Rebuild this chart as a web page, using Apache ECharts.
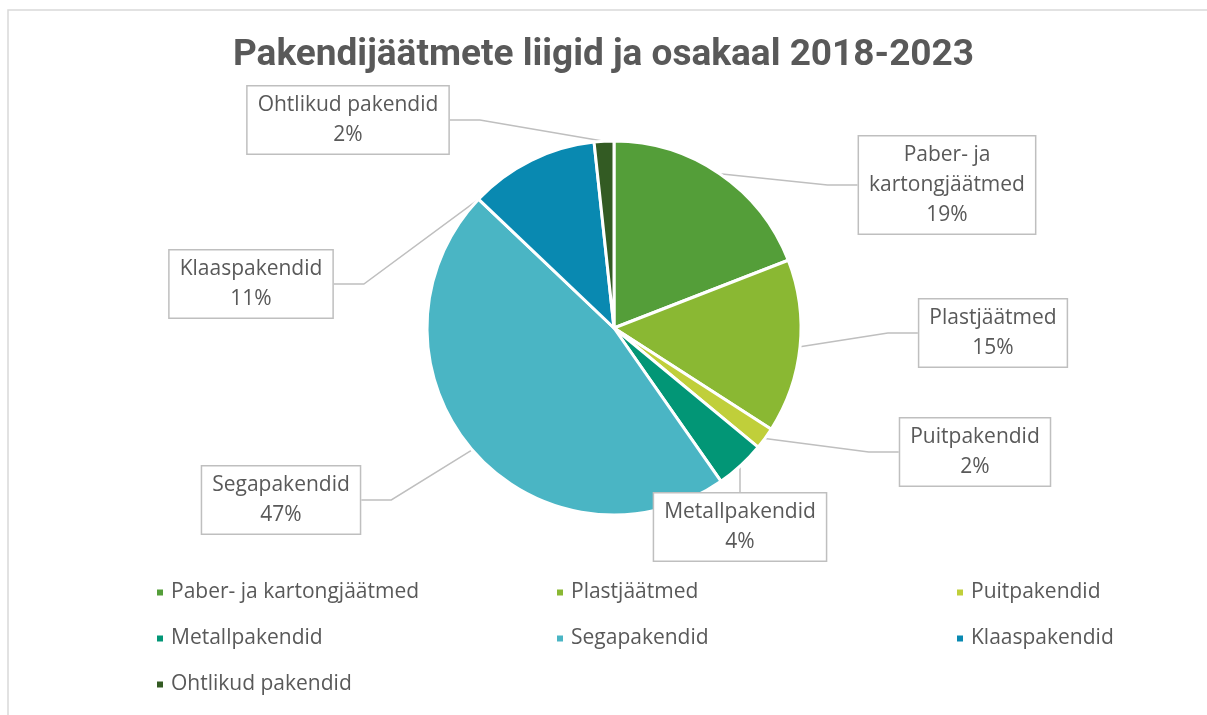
<!DOCTYPE html>
<html>
<head>
<meta charset="utf-8">
<script src="https://cdn.jsdelivr.net/npm/echarts@6/dist/echarts.min.js"></script>
<style>
  html, body { margin: 0; padding: 0; background: #fff; }
  #chart { width: 1207px; height: 715px; }
</style>
</head>
<body>
<div id="chart"></div>
<script>
const categories = [
  "Paber- ja kartongjäätmed",
  "Plastjäätmed",
  "Puitpakendid",
  "Metallpakendid",
  "Segapakendid",
  "Klaaspakendid",
  "Ohtlikud pakendid"
];
const shares = [19.1, 15.0, 1.9, 4.3, 46.8, 11.2, 1.7];
const colors = ["#549e39", "#8ab833", "#c0cf3a", "#029676", "#4ab5c4", "#0989b1", "#335b23"];

// label box centres (px), same order as categories
const labelPos = [
  [947, 185], [993, 333], [975, 452], [740, 527], [281, 500], [251, 284], [348, 120]
];

const textColor = "#595959";
const font = "'Open Sans', 'Noto Sans', sans-serif";

const chart = echarts.init(document.getElementById("chart"));

chart.setOption({
  animation: false,
  textStyle: { fontFamily: font },
  graphic: [
    {
      type: "rect",
      shape: { x: 8, y: 10, width: 1300, height: 800 },
      style: { fill: "none", stroke: "#d9d9d9", lineWidth: 1.5 },
      silent: true
    }
  ],
  title: {
    text: "Pakendijäätmete liigid ja osakaal 2018-2023",
    left: "center",
    top: 32,
    textStyle: {
      fontFamily: "'Roboto', sans-serif",
      fontWeight: "bold",
      fontSize: 37,
      color: textColor
    }
  },
  legend: [
    { data: [categories[0], categories[3], categories[6]], left: 150 },
    { data: [categories[1], categories[4]], left: 550 },
    { data: [categories[2], categories[5]], left: 950 }
  ].map((l) => ({
    ...l,
    top: 576,
    orient: "vertical",
    icon: "rect",
    itemWidth: 8,
    itemHeight: 8,
    itemGap: 23,
    textStyle: { color: textColor, fontSize: 21, lineHeight: 23, fontFamily: font, padding: [0, 0, 0, 2] }
  })),
  series: [
    {
      type: "pie",
      center: [614, 328],
      radius: 187,
      startAngle: 90,
      clockwise: true,
      percentPrecision: 0,
      itemStyle: { borderColor: "#fff", borderWidth: 3 },
      label: {
        show: true,
        position: "outside",
        formatter: (p) => p.name.replace("- ja ", "- ja\n") + "\n" + p.percent + "%",
        color: textColor,
        fontSize: 21,
        lineHeight: 30,
        fontFamily: font,
        align: "center",
        backgroundColor: "#fff",
        borderColor: "#bfbfbf",
        borderWidth: 1.5,
        padding: [4, 10, 3, 10]
      },
      labelLine: {
        show: true,
        lineStyle: { color: "#bfbfbf", width: 1.5 }
      },
      labelLayout: (params) => ({
        x: labelPos[params.dataIndex][0],
        y: labelPos[params.dataIndex][1],
        align: "center",
        verticalAlign: "middle"
      }),
      data: categories.map((name, i) => ({
        name,
        value: shares[i],
        itemStyle: { color: colors[i] }
      }))
    }
  ]
});
</script>
</body>
</html>
